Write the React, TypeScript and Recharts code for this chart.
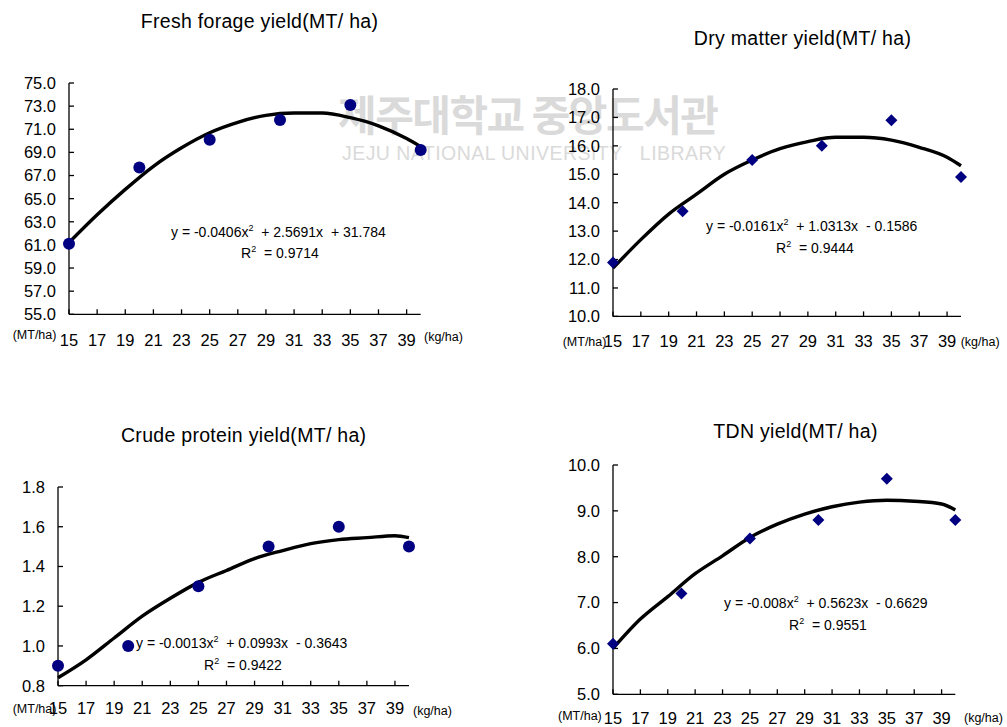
import React from 'react';
import { ComposedChart, Line, Scatter, XAxis, YAxis } from 'recharts';

const FONT = '"Liberation Sans", Arial, sans-serif';
const NAVY = '#000080';

// Nitrogen levels (kg/ha) of the measured points
const doseLevels = [15, 20, 25, 30, 35, 40];
const trendX = [15, 17, 19, 21, 23, 25, 27, 29, 31, 33, 35, 37, 39, 40];
const xTicks = [15, 17, 19, 21, 23, 25, 27, 29, 31, 33, 35, 37, 39];

// Fresh forage yield
const freshValues = [61.1, 67.7, 70.1, 71.8, 73.1, 69.2];
const freshTrend = [61.2, 63.6, 65.8, 67.8, 69.4, 70.7, 71.6, 72.2, 72.4, 72.4, 72.0, 71.3, 70.2, 69.5];
const freshTicks = [55, 57, 59, 61, 63, 65, 67, 69, 71, 73, 75];

// Dry matter yield
const dryValues = [11.9, 13.7, 15.5, 16.0, 16.9, 14.9];
const dryTrend = [11.7, 12.7, 13.6, 14.3, 15.0, 15.5, 15.9, 16.15, 16.3, 16.3, 16.2, 15.95, 15.6, 15.3];
const dryTicks = [10, 11, 12, 13, 14, 15, 16, 17, 18];

// Crude protein yield
const cpValues = [0.9, 1.0, 1.3, 1.5, 1.6, 1.5];
const cpTrend = [0.84, 0.93, 1.04, 1.15, 1.24, 1.32, 1.38, 1.44, 1.48, 1.515, 1.535, 1.545, 1.555, 1.545];
const cpTicks = [0.8, 1.0, 1.2, 1.4, 1.6, 1.8];

// TDN yield
const tdnValues = [6.1, 7.2, 8.4, 8.8, 9.7, 8.8];
const tdnTrend = [6.0, 6.64, 7.13, 7.63, 8.02, 8.42, 8.71, 8.93, 9.09, 9.19, 9.23, 9.21, 9.15, 9.02];
const tdnTicks = [5, 6, 7, 8, 9, 10];

const toPoints = (xs: number[], ys: number[]) => xs.map((x, i) => ({ x, y: ys[i] }));

const YW = 70;
const MT = 10;
const MR = 10;
const XH = 40;

const circleShape = (p: any) => <circle cx={p.cx} cy={p.cy} r={6} fill={NAVY} />;
const diamondShape = (p: any) => {
  const s = 6;
  return (
    <polygon
      points={`${p.cx},${p.cy - s} ${p.cx + s},${p.cy} ${p.cx},${p.cy + s} ${p.cx - s},${p.cy}`}
      fill={NAVY}
    />
  );
};

type PanelProps = {
  plotLeft: number;
  plotTop: number;
  plotW: number;
  plotH: number;
  domain: [number, number];
  ticks: number[];
  values: number[];
  trend: number[];
  marker: 'circle' | 'diamond';
  xTickMargin: number;
};

const Panel = ({ plotLeft, plotTop, plotW, plotH, domain, ticks, values, trend, marker, xTickMargin }: PanelProps) => {
  const width = YW + plotW + MR;
  const height = MT + plotH + XH;
  const tickStyle = { fontSize: 16.5, fill: '#000', fontFamily: FONT };
  return (
    <div style={{ position: 'absolute', left: plotLeft - YW, top: plotTop - MT }}>
      <ComposedChart width={width} height={height} margin={{ top: MT, right: MR, left: 0, bottom: 0 }}>
        <XAxis
          dataKey="x"
          type="number"
          domain={[15, 40]}
          ticks={xTicks}
          interval={0}
          height={XH}
          tickSize={-5}
          tickMargin={xTickMargin}
          axisLine={{ stroke: '#000', strokeWidth: 1.3 }}
          tickLine={{ stroke: '#000', strokeWidth: 1.3 }}
          tick={tickStyle}
        />
        <YAxis
          dataKey="y"
          type="number"
          domain={domain}
          ticks={ticks}
          interval={0}
          width={YW}
          tickSize={-5}
          tickMargin={18}
          tickFormatter={(v: number) => v.toFixed(1)}
          axisLine={{ stroke: '#000', strokeWidth: 1.3 }}
          tickLine={{ stroke: '#000', strokeWidth: 1.3 }}
          tick={tickStyle}
        />
        <Line
          data={toPoints(trendX, trend)}
          dataKey="y"
          type="monotone"
          stroke="#000"
          strokeWidth={3.4}
          dot={false}
          activeDot={false}
          isAnimationActive={false}
        />
        <Scatter
          data={toPoints(doseLevels, values)}
          dataKey="y"
          shape={marker === 'circle' ? circleShape : diamondShape}
          isAnimationActive={false}
        />
      </ComposedChart>
    </div>
  );
};

const Txt = ({ x, cy, size, center, children, color }: any) => (
  <div
    style={{
      position: 'absolute',
      left: x,
      top: cy - size / 2,
      fontSize: size,
      lineHeight: `${size}px`,
      whiteSpace: 'pre',
      fontFamily: FONT,
      color: color || '#000',
      transform: center ? 'translateX(-50%)' : undefined,
    }}
  >
    {children}
  </div>
);

const Sup = () => <span style={{ fontSize: 9, position: 'relative', top: -6 }}>2</span>;

const Title = ({ cx, cy, text }: any) => (
  <div
    style={{
      position: 'absolute',
      left: cx,
      top: cy - 10,
      fontSize: 19.5,
      lineHeight: '20px',
      letterSpacing: 0.3,
      whiteSpace: 'pre',
      fontFamily: FONT,
      transform: 'translateX(-50%)',
    }}
  >
    {text}
  </div>
);

export default function App() {
  return (
    <div style={{ position: 'absolute', left: 0, top: 0, width: 1007, height: 727, background: '#fff', overflow: 'hidden' }}>
      {/* library watermark */}
      <div
        style={{
          position: 'absolute',
          left: 338,
          top: 90,
          fontSize: 42,
          lineHeight: '46px',
          fontWeight: 700,
          letterSpacing: -1.5,
          whiteSpace: 'pre',
          color: '#dadada',
          fontFamily: '"Noto Sans CJK KR", sans-serif',
        }}
      >
        제주대학교 중앙도서관
      </div>
      <div
        style={{
          position: 'absolute',
          left: 342,
          top: 143,
          fontSize: 19.5,
          lineHeight: '20px',
          letterSpacing: 0.45,
          whiteSpace: 'pre',
          color: '#dadada',
          fontFamily: FONT,
        }}
      >
        JEJU NATIONAL UNIVERSITY   LIBRARY
      </div>

      <Title cx={259.5} cy={21} text="Fresh forage yield(MT/ ha)" />
      <Title cx={802.5} cy={37.5} text="Dry matter yield(MT/ ha)" />
      <Title cx={243.7} cy={435} text="Crude protein yield(MT/ ha)" />
      <Title cx={795.5} cy={431} text="TDN yield(MT/ ha)" />

      <Panel plotLeft={69.3} plotTop={82.7} plotW={351.7} plotH={231.3} domain={[55, 75]} ticks={freshTicks}
        values={freshValues} trend={freshTrend} marker="circle" xTickMargin={25} />
      <Panel plotLeft={612.7} plotTop={89.3} plotW={348} plotH={227.4} domain={[10, 18]} ticks={dryTicks}
        values={dryValues} trend={dryTrend} marker="diamond" xTickMargin={24} />
      <Panel plotLeft={58.3} plotTop={487.3} plotW={351} plotH={198.7} domain={[0.8, 1.8]} ticks={cpTicks}
        values={cpValues} trend={cpTrend} marker="circle" xTickMargin={21.4} />
      <Panel plotLeft={612.7} plotTop={465} plotW={342.3} plotH={229.3} domain={[5, 10]} ticks={tdnTicks}
        values={tdnValues} trend={tdnTrend} marker="diamond" xTickMargin={23} />

      {/* unit labels */}
      <Txt x={12.7} cy={335} size={12.5}>(MT/ha)</Txt>
      <Txt x={424} cy={337} size={12.5}>(kg/ha)</Txt>
      <Txt x={562.7} cy={342} size={12.5}>(MT/ha)</Txt>
      <Txt x={960.7} cy={342} size={12.5}>(kg/ha)</Txt>
      <Txt x={12.7} cy={709} size={12.5}>(MT/ha)</Txt>
      <Txt x={413} cy={711.7} size={12.5}>(kg/ha)</Txt>
      <Txt x={558} cy={716} size={12.5}>(MT/ha)</Txt>
      <Txt x={964} cy={718} size={12.5}>(kg/ha)</Txt>

      {/* trend equations */}
      <Txt x={171} cy={232} size={14}>y = -0.0406x<Sup />  + 2.5691x  + 31.784</Txt>
      <Txt x={241} cy={253} size={14}>R<Sup />  = 0.9714</Txt>
      <Txt x={706} cy={226} size={14}>y = -0.0161x<Sup />  + 1.0313x  - 0.1586</Txt>
      <Txt x={776} cy={248} size={14}>R<Sup />  = 0.9444</Txt>
      <Txt x={136} cy={643} size={14}>y = -0.0013x<Sup />  + 0.0993x  - 0.3643</Txt>
      <Txt x={204} cy={665} size={14}>R<Sup />  = 0.9422</Txt>
      <Txt x={724} cy={603} size={14}>y = -0.008x<Sup />  + 0.5623x  - 0.6629</Txt>
      <Txt x={789} cy={625} size={14}>R<Sup />  = 0.9551</Txt>
    </div>
  );
}
